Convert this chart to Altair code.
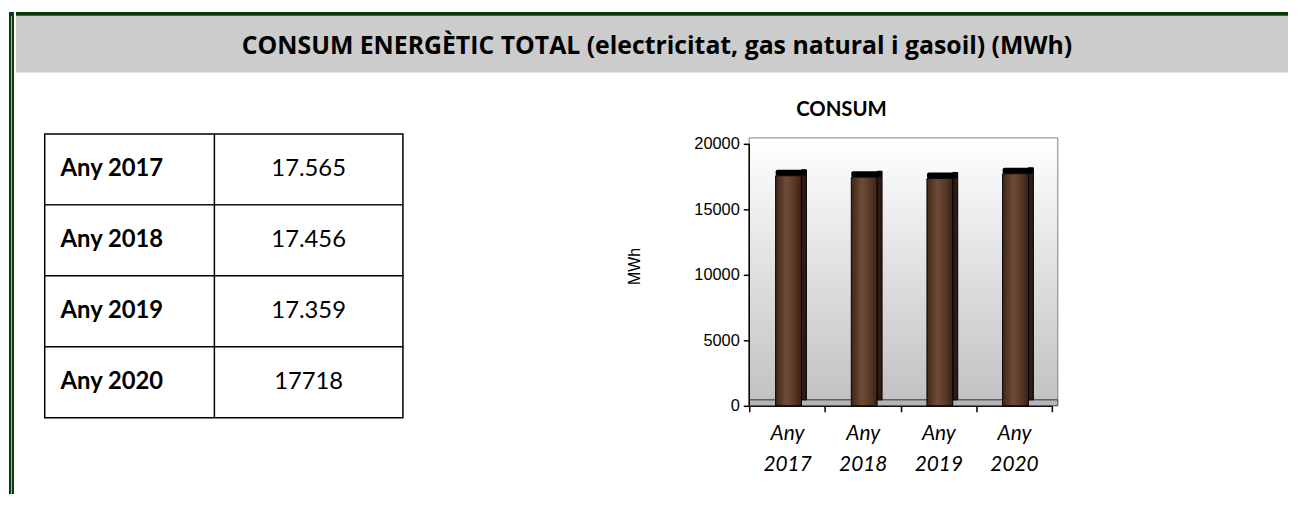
import altair as alt
import pandas as pd

# ---------------- data ----------------
TITLE = "CONSUM ENERGÈTIC TOTAL (electricitat, gas natural i gasoil) (MWh)"
CHART_TITLE = "CONSUM"
Y_TITLE = "MWh"
YEARS = ["Any 2017", "Any 2018", "Any 2019", "Any 2020"]
TABLE_VALUES = ["17.565", "17.456", "17.359", "17718"]
CONSUM = [17565, 17456, 17359, 17718]
Y_TICKS = [0, 5000, 10000, 15000, 20000]

# ---------------- style ----------------
GREEN = "#073807"
FONT = "Lato"
HEAD_FONT = "Open Sans"
AX_FONT = "Liberation Sans"
TOTAL_H = 488

one = pd.DataFrame({"k": [0]})

# left border
border = alt.layer(
    alt.Chart(one).mark_rect(color=GREEN).encode(
        x=alt.value(1), x2=alt.value(6), y=alt.value(2), y2=alt.value(TOTAL_H)),
    alt.Chart(one).mark_rule(color="#a9c4a9", strokeWidth=1).encode(
        x=alt.value(3.5), y=alt.value(6), y2=alt.value(TOTAL_H)),
).properties(width=6, height=TOTAL_H)

# header band
header = alt.layer(
    alt.Chart(one).mark_rect(color="#cccccc").encode(
        x=alt.value(0), x2=alt.value(1282), y=alt.value(6), y2=alt.value(63)),
    alt.Chart(one).mark_rule(color=GREEN, strokeWidth=4).encode(
        x=alt.value(0), x2=alt.value(1282), y=alt.value(4)),
    alt.Chart(one).mark_text(text=TITLE, font=HEAD_FONT, fontWeight="bold", fontSize=25,
                             color="black", baseline="alphabetic").encode(
        x=alt.value(646), y=alt.value(44)),
).properties(width=1282, height=63)

# table
table_df = pd.DataFrame({"year": YEARS, "val": TABLE_VALUES})
tsc = alt.Scale(domain=YEARS, range=[62, 348], paddingInner=0, paddingOuter=0)
rows = alt.Chart(table_df).mark_rect(fill="white", stroke="black", strokeWidth=1.5).encode(
    x=alt.value(29), x2=alt.value(390), y=alt.Y("year:N", scale=tsc, axis=None))
divider = alt.Chart(one).mark_rule(color="black", strokeWidth=1.5).encode(
    x=alt.value(200), y=alt.value(62), y2=alt.value(348))
tlabels = alt.Chart(table_df).mark_text(align="left", font=FONT, fontWeight="bold",
                                        fontSize=24, color="black").encode(
    x=alt.value(45), y=alt.Y("year:N", scale=tsc, axis=None), text="year:N")
tvalues = alt.Chart(table_df).mark_text(align="center", font=FONT, fontSize=24,
                                        color="black").encode(
    x=alt.value(295), y=alt.Y("year:N", scale=tsc, axis=None), text="val:N")
table = alt.layer(rows, divider, tlabels, tvalues).properties(width=390, height=348)

# bar chart
bar_df = pd.DataFrame({"year": YEARS, "value": CONSUM})
xsc = alt.Scale(domain=YEARS, paddingInner=0, paddingOuter=0)
ysc = alt.Scale(domain=[0, 25454], nice=False, zero=True)
xaxis = alt.Axis(title=None, labelExpr="split(datum.label, ' ')", labelFont=FONT,
                 labelFontStyle="italic", labelFontSize=21, labelColor="black",
                 labelLineHeight=31, labelPadding=11, tickSize=6, tickColor="black",
                 tickWidth=1.5, tickBand="extent", domainColor="black", domainWidth=1.5,
                 labelAngle=0, grid=False)
yaxis = alt.Axis(values=Y_TICKS, format="d", title=Y_TITLE, titleFont=AX_FONT,
                 titleFontSize=16, titleFontWeight="normal", titleColor="black",
                 titleX=-116, titleY=195, titleAngle=270, titleAlign="center",
                 titleBaseline="middle", labelFont=AX_FONT, labelFontSize=16.5,
                 labelColor="black", labelPadding=4, tickSize=6, tickColor="black",
                 tickWidth=1.5, domain=False, grid=False)

wall_grad = alt.LinearGradient(gradient="linear", x1=0, x2=0, y1=0, y2=1,
                               stops=[alt.GradientStop(color="#ffffff", offset=0),
                                      alt.GradientStop(color="#c2c2c2", offset=1)])
bar_grad = alt.LinearGradient(gradient="linear", x1=0, x2=1, y1=0, y2=0,
                              stops=[alt.GradientStop(color="#3e2618", offset=0),
                                     alt.GradientStop(color="#6e4b37", offset=0.4),
                                     alt.GradientStop(color="#5a3a28", offset=0.7),
                                     alt.GradientStop(color="#3a2216", offset=1)])

bg = alt.Chart(one).mark_rect(fill=wall_grad, stroke="#808080", strokeWidth=1).encode(
    x=alt.value(0), x2=alt.value(311), y=alt.value(66), y2=alt.value(330))
floor = alt.Chart(one).mark_rect(fill="#b5b5b5", stroke="#404040", strokeWidth=1).encode(
    x=alt.value(0), x2=alt.value(311), y=alt.value(330), y2=alt.value(336))

base = alt.Chart(bar_df).encode(
    x=alt.X("year:N", scale=xsc, axis=xaxis, sort=YEARS),
    y=alt.Y("value:Q", scale=ysc, axis=yaxis))
side = base.mark_bar(size=5, xOffset=17, color="#2e1b12", stroke="black",
                     strokeWidth=1, yOffset=-6)
front = base.mark_bar(size=26, xOffset=1.5, fill=bar_grad, stroke="black", strokeWidth=1)
cap = base.mark_bar(size=31, xOffset=4, color="black", yOffset=-6, cornerRadius=2).encode(
    y2="value:Q")
yline = alt.Chart(one).mark_rule(color="black", strokeWidth=1.5).encode(
    x=alt.value(0), y=alt.Y(datum=0, scale=ysc, axis=yaxis), y2=alt.datum(20000))
ctitle = alt.Chart(one).mark_text(text=CHART_TITLE, font=FONT, fontWeight="bold",
                                  fontSize=20.5, color="black", baseline="alphabetic").encode(
    x=alt.value(93), y=alt.value(44))

bar = alt.layer(bg, floor, side, front, cap, yline, ctitle).properties(width=305, height=336)

body = alt.hconcat(table, bar, spacing=224)
main = alt.vconcat(header, body, spacing=0)
chart = alt.hconcat(border, main, spacing=0).properties(padding=0).configure_view(strokeWidth=0)

chart.save("out.html", embed_options={"renderer": "svg", "actions": False})
